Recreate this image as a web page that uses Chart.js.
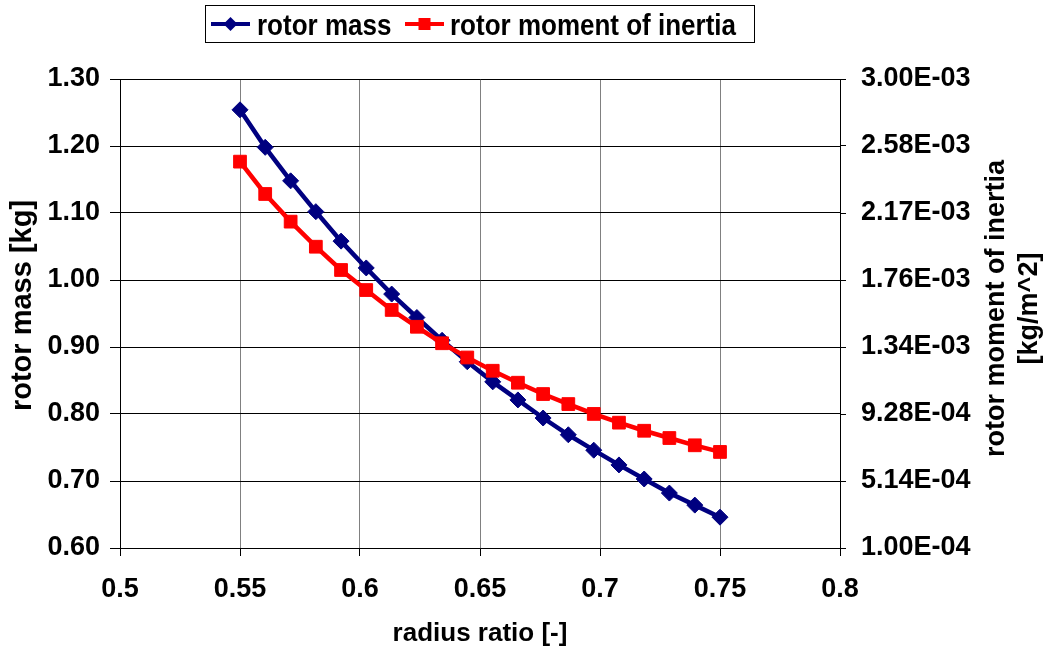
<!DOCTYPE html>
<html>
<head>
<meta charset="utf-8">
<title>rotor mass and moment of inertia</title>
<script src="https://cdn.jsdelivr.net/npm/chart.js@4.4.1/dist/chart.umd.min.js"></script>
<style>
    html, body { margin: 0; padding: 0; background: #fff; }
    #wrap { width: 1048px; height: 655px; }
</style>
</head>
<body>
<div id="wrap"><canvas id="grafiek" width="1048" height="655"></canvas></div>
<script>
// ===============================
// Data
// ===============================
// radius ratio [-], 20 design points from 0.55 to 0.75
const radiusRatio = [0.5500, 0.5605, 0.5711, 0.5816, 0.5921, 0.6026, 0.6132, 0.6237, 0.6342, 0.6447,
                     0.6553, 0.6658, 0.6763, 0.6868, 0.6974, 0.7079, 0.7184, 0.7289, 0.7395, 0.7500];

// rotor mass [kg]
const rotorMass = [1.254, 1.198, 1.148, 1.102, 1.058, 1.018, 0.979, 0.944, 0.910, 0.878,
                   0.848, 0.821, 0.794, 0.769, 0.746, 0.724, 0.703, 0.682, 0.664, 0.646];

// rotor moment of inertia [kg/m^2]
const rotorInertia = [2.489e-3, 2.289e-3, 2.118e-3, 1.963e-3, 1.819e-3, 1.695e-3, 1.572e-3, 1.468e-3, 1.366e-3, 1.278e-3,
                      1.196e-3, 1.122e-3, 1.052e-3, 0.990e-3, 0.929e-3, 0.875e-3, 0.825e-3, 0.780e-3, 0.735e-3, 0.694e-3];

// tick labels of the secondary axis
const inertiaTickLabels = ["1.00E-04", "5.14E-04", "9.28E-04", "1.34E-03", "1.76E-03", "2.17E-03", "2.58E-03", "3.00E-03"];

const reeksNamen = ["rotor mass", "rotor moment of inertia"];
const titelX = "radius ratio [-]";
const titelLinks = "rotor mass [kg]";
const titelRechts = ["rotor moment of inertia", "[kg/m^2]"];

const FONT = '"Liberation Sans", Arial, sans-serif';
const BLAUW = "#000080";
const ROOD = "#FF0000";

// ===============================
// Legend + y-axis titles (drawn by hand)
// ===============================
const tekstPlugin = {
    id: "tekstPlugin",
    afterDraw(chart) {
        const ctx = chart.ctx;
        const area = chart.chartArea;
        const midY = (area.top + area.bottom) / 2;

        ctx.save();
        ctx.fillStyle = "#000";
        ctx.textAlign = "center";
        ctx.textBaseline = "middle";

        // left axis title
        ctx.save();
        ctx.translate(23, midY - 8);
        ctx.rotate(-Math.PI / 2);
        ctx.font = "bold 29px " + FONT;
        ctx.fillText(titelLinks, 0, 0);
        ctx.restore();

        // right axis title, two lines
        ctx.save();
        ctx.translate(1013, midY - 5);
        ctx.rotate(-Math.PI / 2);
        ctx.font = "bold 27px " + FONT;
        ctx.fillText(titelRechts[0], 0, -16);
        ctx.fillText(titelRechts[1], 0, 17);
        ctx.restore();

        // legend box
        ctx.strokeStyle = "#000";
        ctx.lineWidth = 1;
        ctx.strokeRect(205.5, 5.5, 549, 37);

        const items = [
            { x1: 211, x2: 250, tx: 257, kleur: BLAUW, vorm: "ruit", naam: reeksNamen[0] },
            { x1: 405, x2: 444, tx: 450, kleur: ROOD, vorm: "vierkant", naam: reeksNamen[1] }
        ];
        const ly = 24;
        items.forEach(it => {
            ctx.strokeStyle = it.kleur;
            ctx.fillStyle = it.kleur;
            ctx.lineWidth = 4;
            ctx.beginPath();
            ctx.moveTo(it.x1, ly);
            ctx.lineTo(it.x2, ly);
            ctx.stroke();
            const cx = (it.x1 + it.x2) / 2;
            ctx.beginPath();
            if (it.vorm === "ruit") {
                ctx.moveTo(cx, ly - 7);
                ctx.lineTo(cx + 7, ly);
                ctx.lineTo(cx, ly + 7);
                ctx.lineTo(cx - 7, ly);
                ctx.closePath();
            } else {
                ctx.rect(cx - 6, ly - 6, 12, 12);
            }
            ctx.fill();

            ctx.save();
            ctx.fillStyle = "#000";
            ctx.textAlign = "left";
            ctx.textBaseline = "alphabetic";
            ctx.font = "bold 26px " + FONT;
            ctx.translate(it.tx, 35);
            ctx.scale(1, 1.15);
            ctx.fillText(it.naam, 0, 0);
            ctx.restore();
        });

        ctx.restore();
    }
};

// ===============================
// Chart
// ===============================
Chart.defaults.font.family = FONT;
Chart.defaults.font.size = 27;
Chart.defaults.font.weight = "bold";
Chart.defaults.color = "#000";

const massaPunten = radiusRatio.map((x, i) => ({ x: x, y: rotorMass[i] }));
const inertiePunten = radiusRatio.map((x, i) => ({ x: x, y: rotorInertia[i] }));

new Chart(document.getElementById("grafiek").getContext("2d"), {
    type: "line",
    data: {
        datasets: [
            {
                label: reeksNamen[0],
                data: massaPunten,
                yAxisID: "y",
                borderColor: BLAUW,
                backgroundColor: BLAUW,
                borderWidth: 4.5,
                pointStyle: "rectRot",
                pointRadius: 8,
                pointBorderWidth: 1,
                tension: 0,
                order: 1
            },
            {
                label: reeksNamen[1],
                data: inertiePunten,
                yAxisID: "y2",
                borderColor: ROOD,
                backgroundColor: ROOD,
                borderWidth: 4.5,
                pointStyle: "rect",
                pointRadius: 9,
                pointBorderWidth: 1,
                tension: 0,
                order: 0
            }
        ]
    },
    options: {
        responsive: false,
        animation: false,
        devicePixelRatio: 1,
        layout: { padding: { top: 79, left: 0, right: 0, bottom: 0 } },
        plugins: {
            legend: { display: false },
            tooltip: { enabled: false }
        },
        scales: {
            x: {
                type: "linear",
                position: "bottom",
                min: 0.5,
                max: 0.8,
                ticks: {
                    stepSize: 0.05,
                    padding: 17,
                    maxRotation: 0,
                    autoSkip: false,
                    callback: v => String(Math.round(v * 100) / 100)
                },
                grid: { color: "#808080", lineWidth: 1, tickLength: 8, tickColor: "#000" },
                border: { color: "#000", width: 1 },
                title: { display: true, text: titelX, font: { size: 26, weight: "bold" }, padding: { top: 0, bottom: 6 } },
                afterFit: s => { s.height = 107; }
            },
            y: {
                position: "left",
                min: 0.6,
                max: 1.3,
                ticks: {
                    stepSize: 0.1,
                    padding: 10,
                    callback: v => v.toFixed(2)
                },
                grid: { color: "#000", lineWidth: 1, tickLength: 10, tickColor: "#000" },
                border: { color: "#000", width: 1 },
                afterFit: s => { s.width = 120; }
            },
            y2: {
                position: "right",
                min: 1e-4,
                max: 3e-3,
                ticks: {
                    count: 8,
                    padding: 15,
                    callback: (v, i) => inertiaTickLabels[i]
                },
                grid: { drawOnChartArea: false, tickLength: 6, tickColor: "#000" },
                border: { color: "#000", width: 1 },
                afterFit: s => { s.width = 208; }
            }
        }
    },
    plugins: [tekstPlugin]
});
</script>
</body>
</html>
